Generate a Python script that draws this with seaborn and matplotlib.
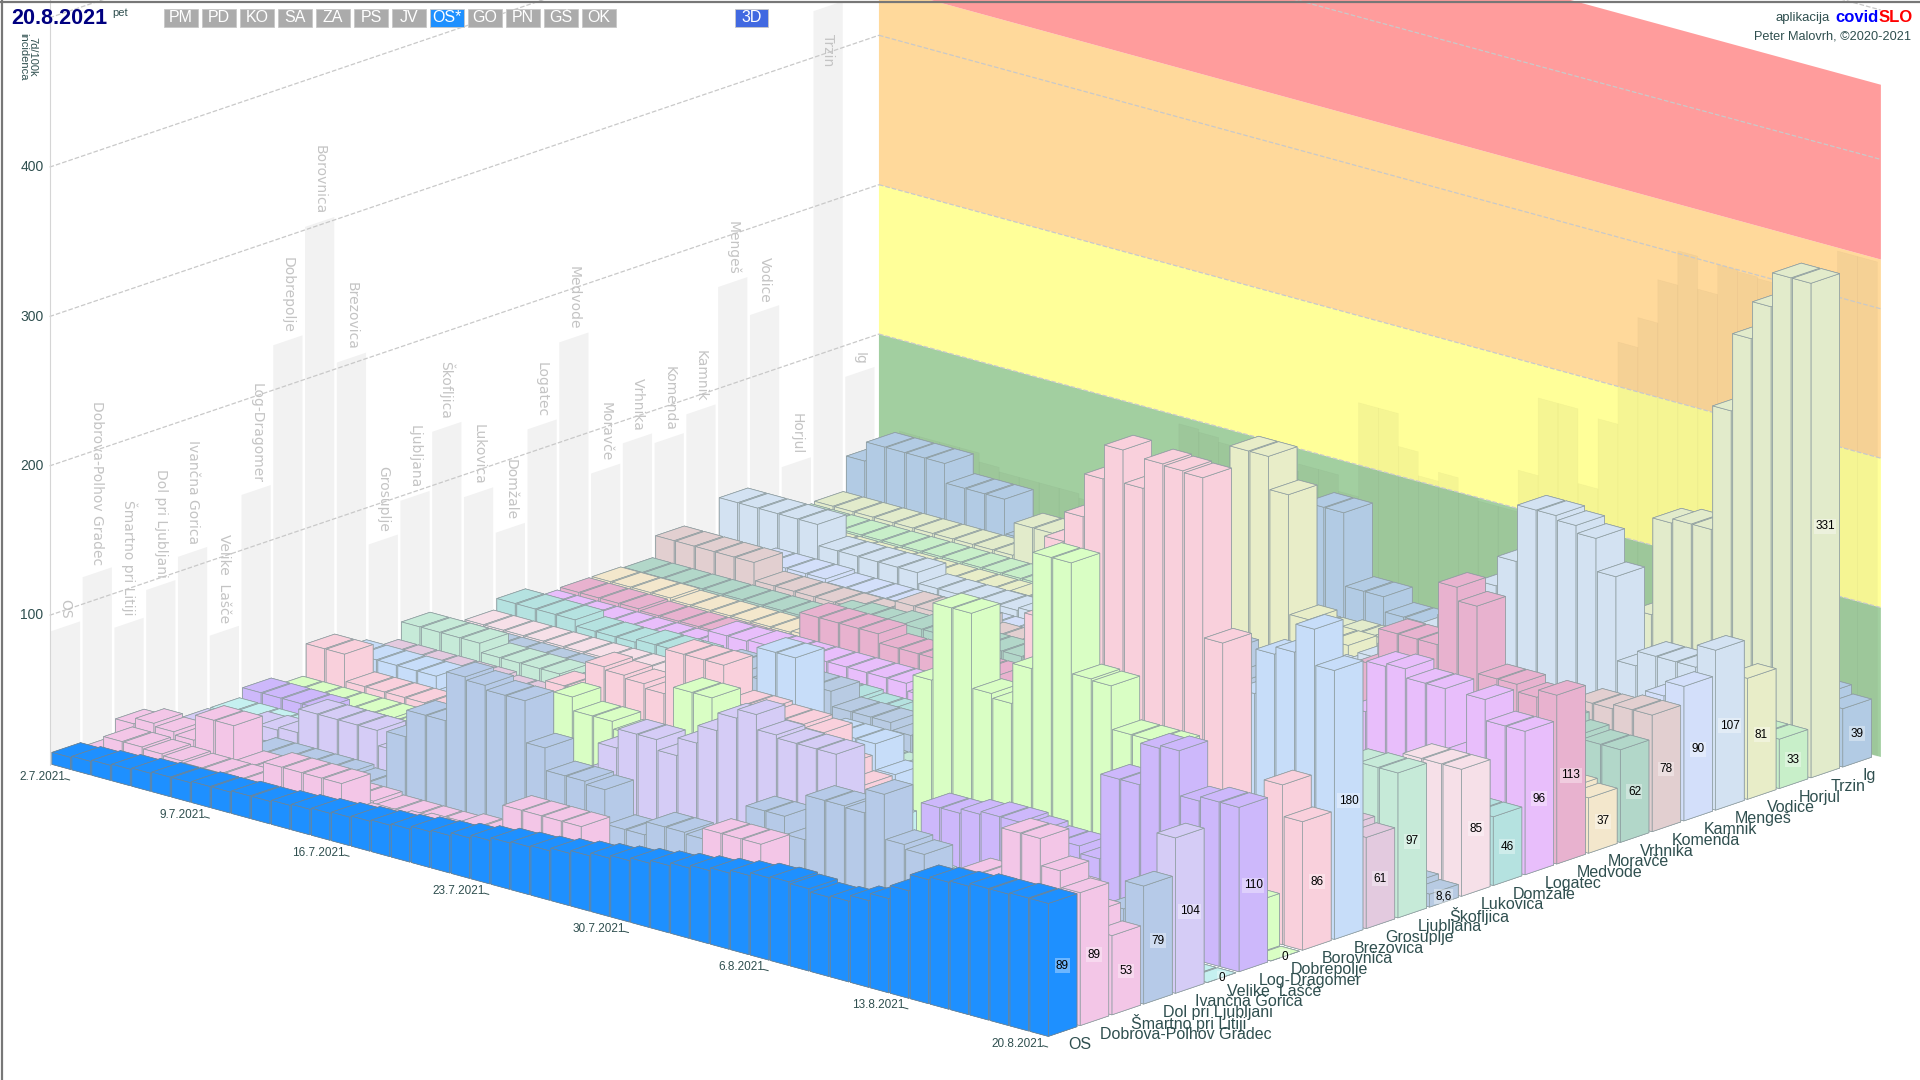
import numpy as np
import matplotlib
matplotlib.use("Agg")
import matplotlib.pyplot as plt
import seaborn as sns
from matplotlib.lines import Line2D
from matplotlib.patches import Rectangle
from mpl_toolkits.mplot3d import proj3d
from mpl_toolkits.mplot3d.art3d import Poly3DCollection

#Data
municipalities = ['OS', 'Dobrova-Polhov Gradec', 'Šmartno pri Litiji', 'Dol pri Ljubljani', 'Ivančna Gorica',
                  'Velike  Lašče', 'Log-Dragomer', 'Dobrepolje', 'Borovnica', 'Brezovica', 'Grosuplje', 'Ljubljana',
                  'Škofljica', 'Lukovica', 'Domžale', 'Logatec', 'Medvode', 'Moravče', 'Vrhnika', 'Komenda', 'Kamnik',
                  'Mengeš', 'Vodice', 'Horjul', 'Trzin', 'Ig']
last_labels = ['89', '89', '53', '79', '104', '0', '110', '0', '86', '180', '61', '97', '8,6', '85', '46', '96', '113',
               '37', '62', '78', '90', '107', '81', '33', '331', '39']
date_labels = ['2.7.2021', '9.7.2021', '16.7.2021', '23.7.2021', '30.7.2021', '6.8.2021', '13.8.2021', '20.8.2021']
date_days = [0, 7, 14, 21, 28, 35, 42, 49]
row_colors = ['#1E90FF', '#F3C6E7', '#F3C6E7', '#B6CAE8', '#D5CCF6', '#C5F0F0', '#CDB8FB', '#D9FEC4', '#F9D0DC',
              '#C7DDF9', '#E3CADF', '#C6EAD8', '#B8CBE3', '#F6E0E8', '#B5E2E0', '#E8BEFB', '#E8B2CF', '#F3E7CC',
              '#B2D7C9', '#E2CFD0', '#D3DFFA', '#D3E2F2', '#E8EDC8', '#C8EFC9', '#E2EBCB', '#B2CBE4']

os_total = [8,9,10,11,12,13,13,14,14,15, 15,16,17,18,19,20,21,22,24,25, 27,29,31,32,33,35,37,39,41,43, 45,47,49,51,53,55,56,55,53,54, 58,63,72,83,85,86,88,88,89,89]
dobrova = [5,15,15,14,13,12,12,12,12,27, 27,27,27,8,8,10,12,12,10,8, 8,42,42,42,42,12,10,8,8,8, 10,63,63,63,30,30,28,28,20,20, 25,25,30,45,84,84,118,118,100,89]
smartno = [16,20,18,16,33,33,10,10,8,8, 8,8,8,6,6,6,6,8,8,8, 8,6,6,6,6,8,8,8,10,10, 10,10,12,12,12,10,10,12,14,14, 20,20,30,30,40,77,77,77,65,53]
dol = [4,4,4,4,4,8,8,8,8,8, 6,6,44,62,62,95,93,90,90,62, 47,47,45,22,22,31,31,30,30,15, 60,60,48,78,78,77,93,63,60,30, 20,15,15,12,12,12,14,16,60,79]
ivancna = [2,2,2,11,12,14,30,30,30,30, 20,18,16,14,12,12,12,10,10,20, 40,62,75,75,68,80,92,104,110,100, 98,98,98,40,30,20,15,15,15,15, 15,18,20,20,20,25,25,20,30,104]
velike = [2,2,2,2,0,0,0,0,0,0, 0,0,0,5,5,5,5,5,0,0, 0,0,5,5,5,10,10,10,10,15, 15,50,50,50,20,20,15,15,15,10, 10,10,10,10,10,10,10,0,0,0]
log_dragomer = [8,8,8,8,4,4,4,4,2,2, 2,2,2,2,2,2,4,4,4,4, 4,6,6,6,6,8,8,8,8,10, 10,12,12,15,55,55,58,60,60,58, 55,55,50,107,107,135,137,107,110,110]
dobrepolje = [2,2,2,2,2,2,0,0,0,0, 0,0,0,0,49,40,40,35,35,35, 74,74,30,25,25,20,20,20,15,15, 15,30,126,178,178,128,125,152,230,230, 156,155,126,126,126,90,60,40,35,0]
borovnica = [23,23,5,5,5,5,5,3,3,3, 3,3,42,42,62,60,58,55,85,85, 85,62,62,60,60,58,40,30,25,20, 20,25,30,50,80,120,175,230,250,279, 302,280,300,299,298,191,40,40,107,86]
brezovica = [12,12,12,12,12,3,3,3,3,3, 3,3,3,5,5,5,5,5,10,10, 20,90,90,30,47,47,47,30,20,20, 15,15,20,20,30,30,30,50,50,60, 60,70,80,90,120,150,180,185,204,180]
grosuplje = [5,5,5,5,5,5,3,3,3,3, 3,3,3,3,3,3,5,5,5,5, 5,8,8,8,8,8,10,10,10,10, 10,10,12,12,12,15,15,15,18,20, 25,30,40,50,60,75,75,70,65,61]
ljubljana = [16,16,16,16,10,10,10,10,6,6, 6,6,6,6,5,5,5,5,6,6, 6,8,8,10,10,12,12,14,14,16, 16,18,20,22,25,28,30,35,40,45, 50,55,60,70,75,80,90,96,97,97]
skofljica = [3,3,3,3,3,3,3,3,3,3, 3,3,3,30,35,35,30,30,35,35, 25,25,25,20,20,20,15,15,15,15, 20,25,30,40,60,80,100,120,136,136, 120,100,80,60,40,30,20,15,12,8.6]
lukovica = [3,3,3,3,3,3,3,3,3,3, 3,3,3,3,3,3,3,3,3,3, 5,5,5,5,8,8,8,8,10,10, 10,10,12,12,12,15,15,15,20,20, 25,30,40,50,60,70,75,85,85,85]
domzale = [10,10,10,10,6,6,6,8,8,8, 5,5,5,5,8,8,8,8,6,6, 10,10,12,12,15,15,15,15,15,12, 12,15,15,18,20,20,25,25,30,30, 35,35,40,45,54,54,50,50,46,46]
logatec = [2,2,2,2,2,2,2,2,2,14, 14,15,15,15,15,15,15,15,15,10, 8,8,8,8,6,6,6,6,8,8, 8,10,10,15,20,25,30,40,50,60, 70,80,114,116,110,110,70,110,96,96]
medvode = [3,3,3,3,2,2,2,2,2,2, 2,2,30,30,30,30,24,24,24,24, 24,24,12,12,10,10,10,10,12,12, 15,15,20,30,40,50,60,70,80,90, 100,125,125,125,167,158,113,113,108,113]
moravce = [3,3,3,3,2,2,2,2,2,2, 3,3,3,3,3,5,5,5,5,5, 5,8,8,8,8,8,10,10,10,10, 12,12,12,15,15,15,18,18,20,25, 30,40,50,60,72,72,60,50,40,37]
vrhnika = [2,2,2,2,2,2,2,2,2,2, 10,12,12,14,15,15,15,15,15,15, 15,15,15,15,15,14,14,12,12,12, 12,15,15,18,20,25,30,35,40,50, 60,70,85,85,80,75,70,65,62,62]
komenda = [16,16,16,16,16,4,4,4,4,4, 4,4,16,16,16,16,10,10,10,10, 10,10,15,15,15,15,10,10,8,8, 8,10,10,12,15,18,20,25,30,35, 40,45,50,55,60,65,75,75,78,78]
kamnik = [1,1,1,5,5,5,5,3,3,3, 3,3,3,3,3,3,3,3,3,3, 5,5,5,5,8,8,8,8,10,10, 12,12,15,18,20,25,30,30,30,30, 30,30,30,30,40,40,45,40,80,90]
menges = [27,27,27,27,27,13,13,13,13,13, 6,6,6,6,6,8,8,8,8,8, 10,10,10,12,12,12,15,15,15,20, 25,30,40,50,60,70,80,90,110,130, 168,168,165,160,138,82,92,92,92,107]
vodice = [2,2,2,2,2,2,2,2,2,2, 2,2,2,5,5,5,8,8,10,10, 20,25,30,30,142,142,120,40,30,30, 20,20,15,15,15,15,20,20,25,25, 30,35,40,50,60,70,70,70,70,81]
horjul = [2,2,2,2,2,2,2,2,2,2, 2,2,2,2,3,3,3,3,5,5, 5,5,5,5,8,8,8,8,8,5, 5,5,5,8,8,8,10,12,12,15, 15,18,20,22,25,28,30,33,33,33]
trzin = [3,3,3,3,3,3,3,3,3,3, 25,25,25,8,8,8,5,5,5,5, 5,5,8,8,10,10,12,12,15,15, 18,20,25,30,35,40,45,50,55,60, 70,80,145,148,148,231,283,308,331,331]
ig = [26,39,39,39,39,26,26,26,3,3, 3,3,3,3,3,3,8,8,8,10, 10,12,15,79,79,30,30,20,20,20, 20,15,15,15,15,10,10,15,15,20, 20,25,30,35,40,50,60,60,45,39]

rows = [os_total, dobrova, smartno, dol, ivancna, velike, log_dragomer, dobrepolje, borovnica, brezovica, grosuplje,
        ljubljana, skofljica, lukovica, domzale, logatec, medvode, moravce, vrhnika, komenda, kamnik, menges, vodice,
        horjul, trzin, ig]
band_limits = [0, 100, 200, 333, 450]
band_colors = ['#A2CFA0', '#FFFF99', '#FFD99B', '#FF9C9C']
y_ticks = [100, 200, 300, 400]

sns.set_theme(style='white')
plt.rcParams['font.family'] = ['Liberation Sans Narrow', 'Liberation Sans', 'DejaVu Sans']
palette = sns.color_palette(row_colors)
dark = '#2F4F4F'

W, H = 1920, 1080
S = W / 1568
fig = plt.figure(figsize=(19.2, 10.8), dpi=100, facecolor='white')

#projection seen in the picture: one day, one municipality and one unit of incidence in 1568 px
day_vec = (16.3, 4.45)
cat_vec = (25.95, 8.8)
unit_z = 1.22
origin = (40.5, 624.5)

sin_el = np.sqrt(day_vec[1] / day_vec[0] * cat_vec[1] / cat_vec[0])
tan_az = sin_el / (day_vec[1] / day_vec[0])
elev = np.degrees(np.arcsin(sin_el))
azim = -np.degrees(np.arctan(tan_az))
sx = day_vec[0] / np.sin(np.radians(-azim))
sy = cat_vec[0] / np.cos(np.radians(azim))
sz = unit_z / np.cos(np.radians(elev))

n_days, wall_y, z_top = 50, 26.1, 500
side = 1.3 * W
ax = fig.add_axes([-0.15, (1 - side / H) / 2, 1.3, side / H], projection='3d', proj_type='ortho',
                  computed_zorder=False)
ax.view_init(elev=elev, azim=azim)
ax.set_xlim(0, n_days)
ax.set_ylim(0, wall_y)
ax.set_zlim(0, z_top)
ax.set_axis_off()
ax.patch.set_alpha(0)
aspect = (n_days * sx, wall_y * sy, z_top * sz)


def to_px(x, y, z):
    x2, y2, _ = proj3d.proj_transform(x, y, z, ax.get_proj())
    return ax.transData.transform((x2, y2))


ax.set_box_aspect(aspect, zoom=1)
ax.apply_aspect()
measured = to_px(1, 0, 0)[0] - to_px(0, 0, 0)[0]
ax.set_box_aspect(aspect, zoom=day_vec[0] * S / measured)
ax.apply_aspect()
here = to_px(0, 0, 0)
pos = ax.get_position(original=True)
ax.set_position([pos.x0 + (origin[0] * S - here[0]) / W, pos.y0 + (H - origin[1] * S - here[1]) / H, pos.width, pos.height])
ax.apply_aspect()


#text at a 3D position, drawn flat on the figure
def label3d(x, y, z, s, dx=0, dy=0, **kw):
    px = to_px(x, y, z)
    return fig.text((px[0] + dx) / W, (px[1] + dy) / H, s, **kw)


#walls
for low, high, col in zip(band_limits[:-1], band_limits[1:], band_colors):
    ax.add_collection3d(Poly3DCollection([[(0, wall_y, low), (50.2, wall_y, low), (50.2, wall_y, high), (0, wall_y, high)]],
                                         facecolor=col, edgecolor='none', zorder=1), autolim=False)

day_peak = np.max(np.array(rows), axis=0)
for d, v in enumerate(day_peak):
    ax.add_collection3d(Poly3DCollection([[(d, wall_y, 0), (d + 1, wall_y, 0), (d + 1, wall_y, v), (d, wall_y, v)]],
                                         facecolor=(0.25, 0.25, 0.2, 0.05), edgecolor=(0, 0, 0, 0.02), linewidth=0.5,
                                         zorder=2), autolim=False)

for c, (name, vals) in enumerate(zip(municipalities, rows)):
    peak = max(vals)
    ax.add_collection3d(Poly3DCollection([[(0, c + 0.04, 0), (0, c + 0.96, 0), (0, c + 0.96, peak), (0, c + 0.04, peak)]],
                                         facecolor='#F2F2F2', edgecolor='none', zorder=1), autolim=False)
    # Trzin has no room above its bar, its name sits inside
    z_text = peak + 5 if name != 'Trzin' else peak - 40
    label3d(0, c + 0.5, z_text, name, rotation=-90, ha='center', va='bottom', color='#C4C4C4', fontsize=10,
            family='DejaVu Sans')

for z in y_ticks + [500]:
    ax.plot([0, 0], [0, wall_y], [z, z], color='#C9C9C9', lw=0.9, ls='--', zorder=3)
    ax.plot([0, 50.2], [wall_y, wall_y], [z, z], color='#C9C9C9', lw=0.9, ls='--', zorder=3)
ax.plot([0, 0], [0, 0], [0, 620], color='#D5D5D5', lw=0.8, zorder=3)
for z in y_ticks:
    label3d(0, 0, z, str(z), dx=-6, ha='right', va='center', color=dark, fontsize=10)

#bars, back to front
order = 10
for c in range(len(rows) - 1, -1, -1):
    edge = '#6E8596' if c == 0 else '#8E9DA0'
    for d, v in enumerate(rows[c]):
        ax.bar3d(d + 0.04, c + 0.05, 0, 0.92, 0.9, v, color=palette[c], shade=False, edgecolor=edge, linewidth=0.5,
                 zorder=order)
        order += 1

#labels on last day
for c, lab in enumerate(last_labels):
    label3d(50, c + 0.47, rows[c][-1] / 2, lab, ha='center', va='center', color='black', fontsize=8.5,
            bbox=dict(facecolor='white', edgecolor='none', alpha=0.35, pad=1))
for c, name in enumerate(municipalities):
    label3d(50.35, c + 0.42, -7, name, ha='left', va='center', color=dark, fontsize=11.5)
for d, lab in zip(date_days, date_labels):
    ax.plot([d + 0.95, d + 1.2], [-0.12, -0.12], [-5, -5], color=dark, lw=0.7, zorder=order)
    label3d(d + 0.95, -0.12, -5, lab, dx=1, dy=2, ha='right', va='center', color=dark, fontsize=8.5)


#header, in 1568 px coordinates
def ftext(x, y, s, **kw):
    fig.text(x * S / W, 1 - y * S / H, s, **kw)


fig.add_artist(Line2D([0.0012, 0.0012], [0, 1], color='#777777', lw=1.6))
fig.add_artist(Line2D([0, 1], [0.9985, 0.9985], color='#777777', lw=1.6))
ftext(9, 15, '20.8.2021', color='#000080', fontsize=15.5, fontweight='bold', va='center', ha='left')
ftext(92, 11, 'pet', color=dark, fontsize=8, va='center', ha='left')
buttons = ['PM', 'PD', 'KO', 'SA', 'ZA', 'PS', 'JV', 'OS*', 'GO', 'PN', 'GŠ', 'OK']
for i, b in enumerate(buttons):
    x0 = 134 + i * 31
    col = '#1E90FF' if b == 'OS*' else '#ABABAB'
    fig.add_artist(Rectangle((x0 * S / W, 1 - 22 * S / H), 28 * S / W, 15 * S / H, transform=fig.transFigure,
                             facecolor=col, edgecolor='#C8C8C8', lw=0.6))
    ftext(x0 + 14, 14.6, b, color='white', fontsize=11.5, ha='center', va='center')
fig.add_artist(Rectangle((600 * S / W, 1 - 22 * S / H), 27 * S / W, 15 * S / H, transform=fig.transFigure,
                         facecolor='#4169E1', edgecolor='#C8C8C8', lw=0.6))
ftext(613.5, 14.6, '3D', color='white', fontsize=11.5, ha='center', va='center')
ftext(23, 46, '7d/100k\nincidenca', color=dark, fontsize=8, rotation=-90, ha='center', va='center', linespacing=0.9)
ftext(1494, 15, 'aplikacija', color=dark, fontsize=9.5, ha='right', va='center')
ftext(1499, 14.5, 'covid', color='#0000FF', fontsize=12, fontweight='bold', ha='left', va='center')
ftext(1534, 14.5, 'SLO', color='#FF0000', fontsize=12, fontweight='bold', ha='left', va='center')
ftext(1561, 30, 'Peter Malovrh, ©2020-2021', color=dark, fontsize=9.2, ha='right', va='center')

fig.savefig('out.png', dpi=100)
